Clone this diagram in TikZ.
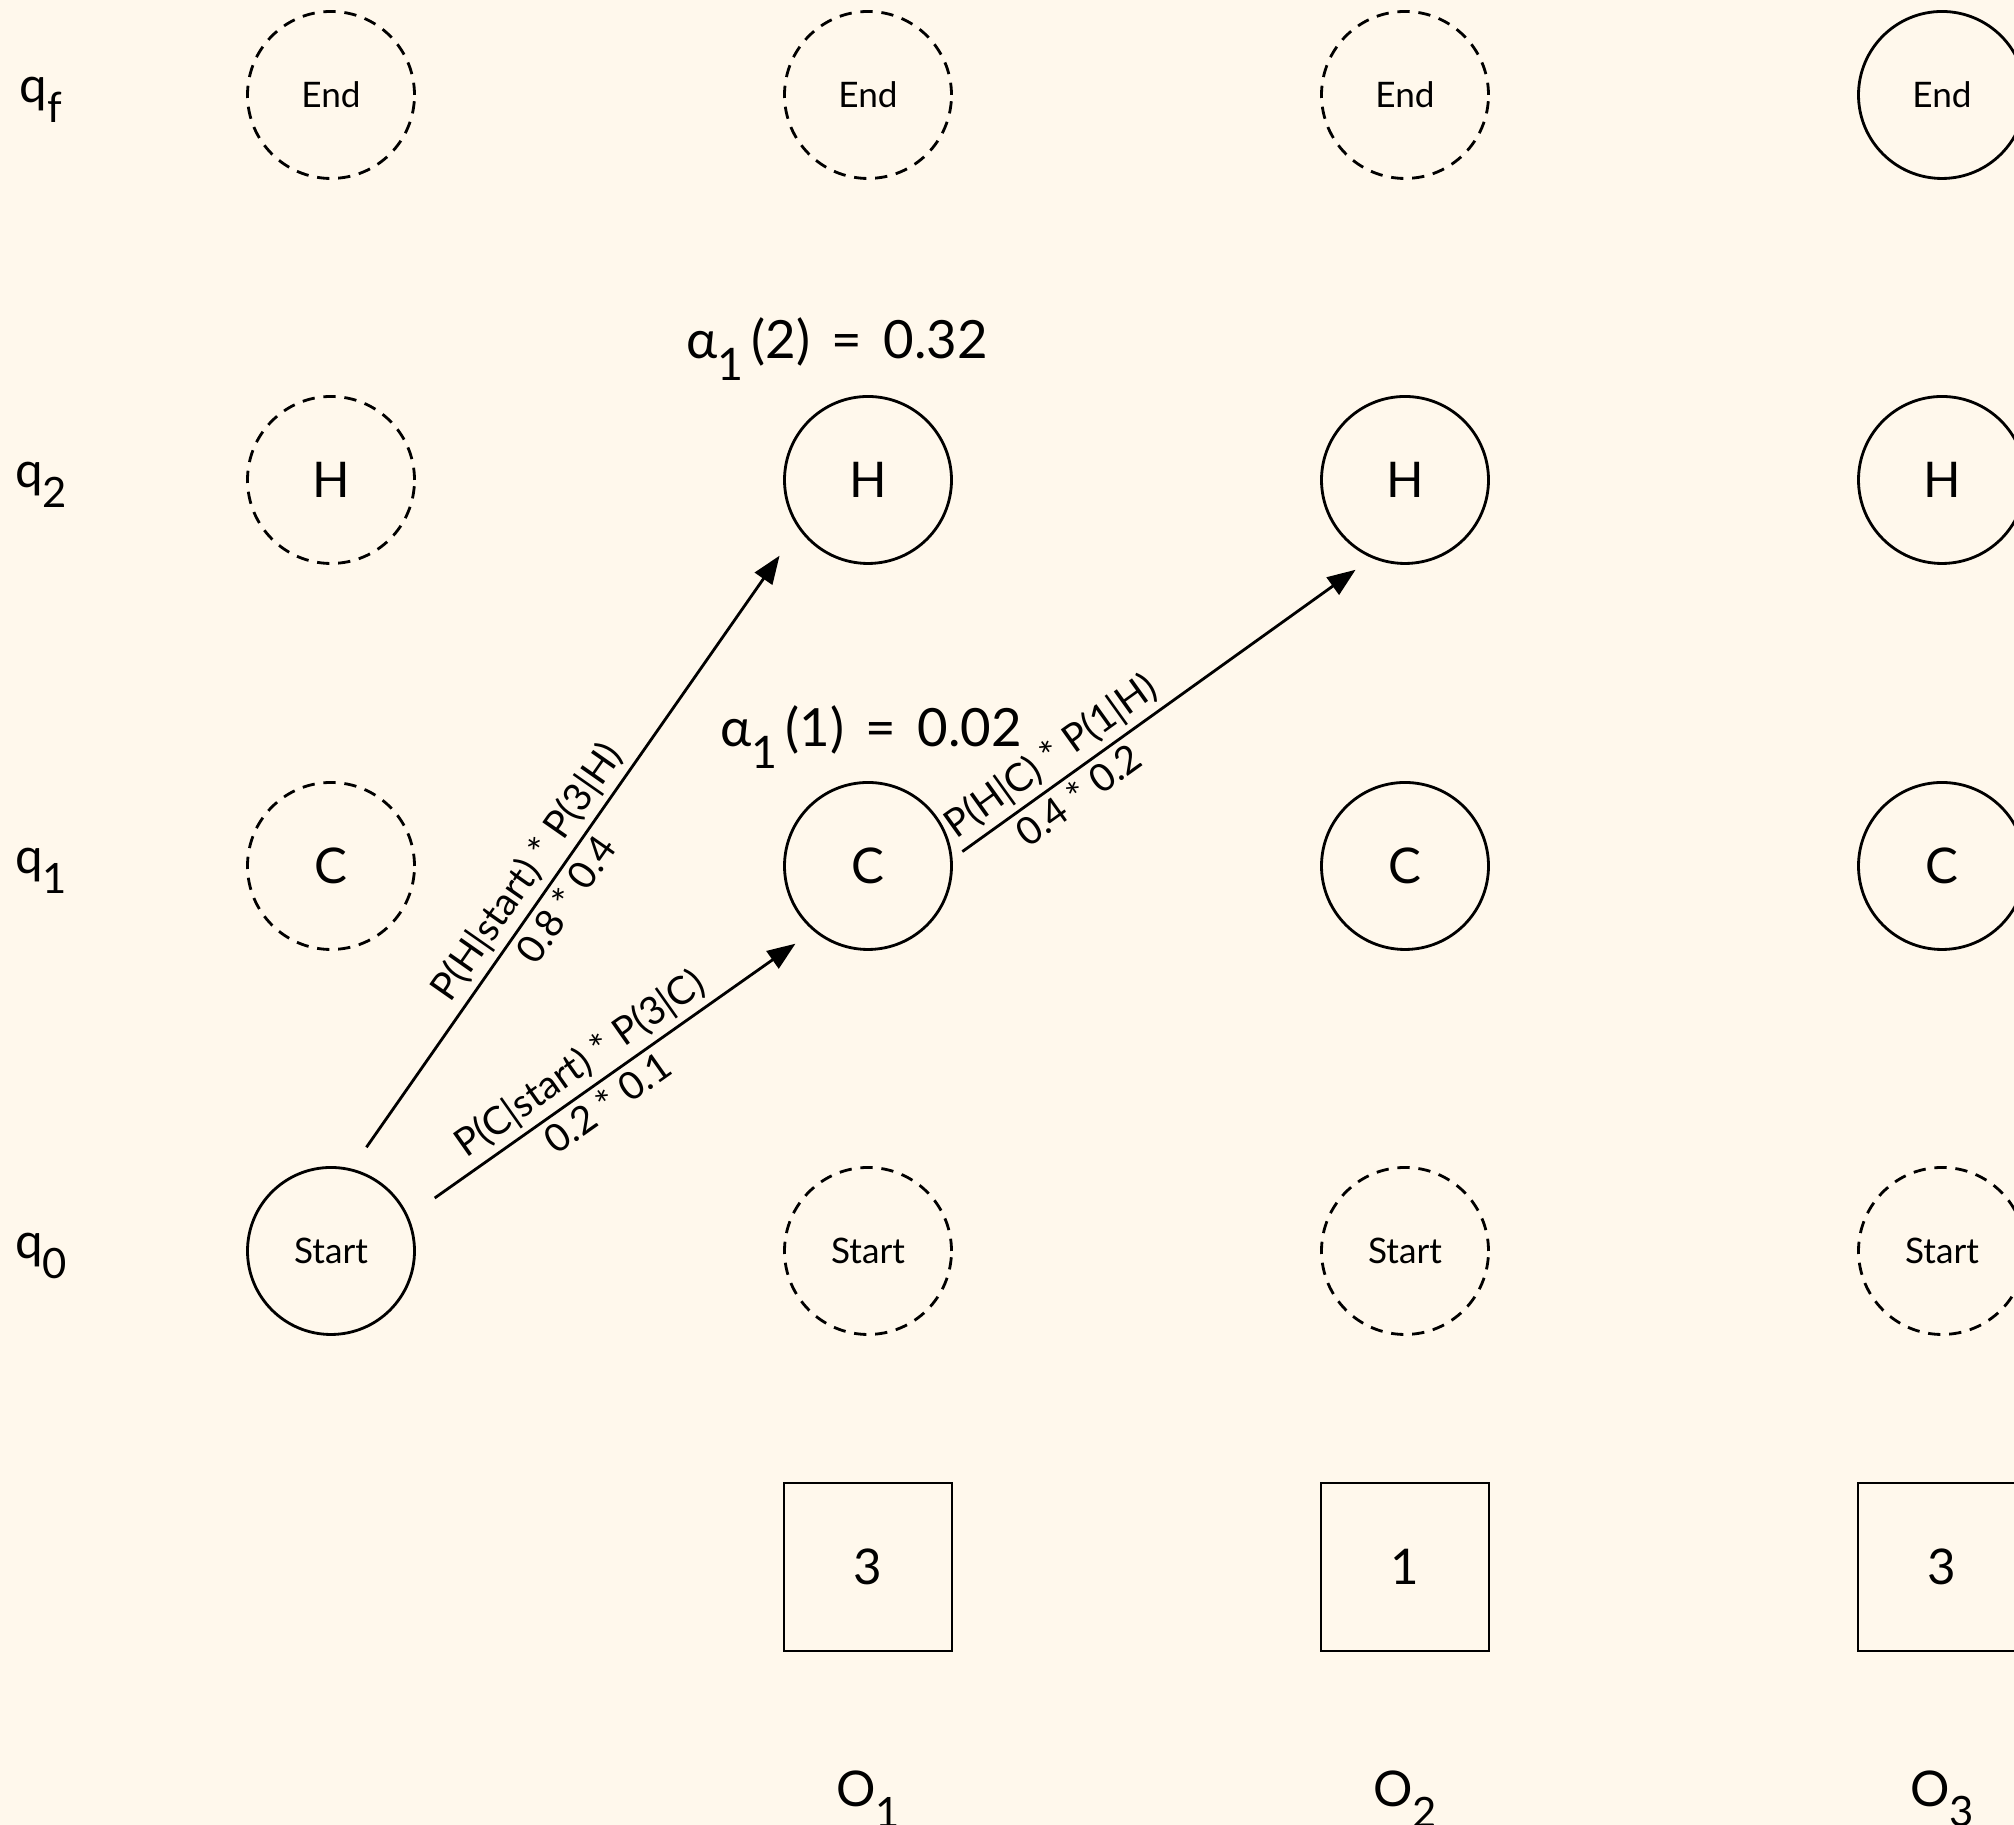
\documentclass[tikz,border=0pt]{standalone}
\usepackage{fontspec}
\setmainfont{Lato}
\usetikzlibrary{arrows.meta, positioning}
\definecolor{paper}{HTML}{FFF8EC}
\newcommand{\lowsub}[1]{\raisebox{-0.42em}{\scalebox{0.85}{#1}}}
\newcommand{\wideeq}{\hspace{0.15em} = \hspace{0.15em}}
\tikzset{
  statenode/.style={
    circle, draw=black, line width=0.8pt,
    minimum size=1.67cm, inner sep=0pt,
    font=\fontsize{14}{16}\selectfont
  },
  ghost/.style={statenode, dash pattern=on 3.5pt off 2.5pt},
  smalltxt/.style={font=\fontsize{10}{12}\selectfont},
  obs/.style={
    rectangle, draw=black, line width=0.8pt,
    minimum size=1.68cm, inner sep=0pt,
    font=\fontsize{14}{16}\selectfont
  },
  trans/.style={-{Triangle[length=8pt,width=6pt]}, line width=0.8pt},
  prob/.style={font=\fontsize{11}{13}\selectfont, sloped, inner sep=1.5pt},
  fwdlbl/.style={font=\fontsize{15}{18}\selectfont, inner sep=0pt},
  rowlbl/.style={font=\fontsize{14}{16}\selectfont}
}

\begin{document}
\begin{tikzpicture}
  \path[use as bounding box, fill=paper] (0,0) rectangle (20.14,18.25);
  \clip (0,0) rectangle (20.14,18.25);

  % state labels on the left
  \node[rowlbl] (qf) at (0.41,17.25) {q\lowsub{f}};
  \node[rowlbl] (q2) at (0.41,13.40) {q\lowsub{2}};
  \node[rowlbl] (q1) at (0.41,9.54) {q\lowsub{1}};
  \node[rowlbl] (q0) at (0.41,5.69) {q\lowsub{0}};

  % first column
  \node[ghost, smalltxt] (end0) at (3.31,17.30) {End};
  \node[ghost] (h0) at (3.31,13.45) {H};
  \node[ghost] (c0) at (3.31,9.59) {C};
  \node[statenode, smalltxt] (start0) at (3.31,5.74) {Start};

  % time steps
  \foreach \i/\x/\o/\e in {1/8.68/3/ghost, 2/14.05/1/ghost, 3/19.42/3/statenode} {
    \node[\e, smalltxt] (end\i) at (\x,17.30) {End};
    \node[statenode] (h\i) at (\x,13.45) {H};
    \node[statenode] (c\i) at (\x,9.59) {C};
    \node[ghost, smalltxt] (start\i) at (\x,5.74) {Start};
    \node[obs] (obs\i) at (\x,2.58) {\o};
    \node[rowlbl] (o\i) at (\x,0.26) {O\lowsub{\i}};
  }

  % forward values
  \node[fwdlbl, above=0.14cm of h1, xshift=-0.31cm] (a12)
    {α\lowsub{1}\hspace{0.15em}(2)\wideeq 0.32};
  \node[fwdlbl, above=0.12cm of c1, xshift=0.03cm] (a11)
    {α\lowsub{1}\hspace{0.15em}(1)\wideeq 0.02};

  \draw[trans, shorten <=0.26cm, shorten >=0.33cm] (start0.76) -- (h1.215)
    node[prob, above, pos=0.44] {P(H|start) * P(3|H)}
    node[prob, below, pos=0.44] {0.8 * 0.4};
  \draw[trans, shorten <=0.32cm, shorten >=0.22cm] (start0.24) -- (c1.230)
    node[prob, above, pos=0.46] {P(C|start) * P(3|C)}
    node[prob, below, pos=0.46] {0.2 * 0.1};
  \draw[trans, shorten <=0.12cm, shorten >=0.2cm] (c1.5) -- (h2.247)
    node[prob, above, pos=0.27] {P(H|C) * P(1|H)}
    node[prob, below, pos=0.27] {0.4 * 0.2};
\end{tikzpicture}
\end{document}
